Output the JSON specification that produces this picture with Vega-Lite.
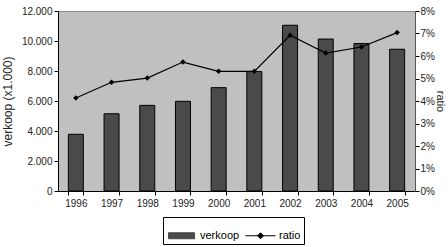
{
  "$schema": "https://vega.github.io/schema/vega-lite/v6.json",
  "width": 357,
  "height": 180,
  "autosize": {"type": "none"},
  "padding": {"left": 58, "top": 11, "right": 33, "bottom": 56},
  "background": "white",
  "config": {
    "font": "Liberation Sans",
    "view": {"fill": "#c0c0c0", "stroke": "#8a8a8a", "strokeWidth": 1},
    "axis": {
      "labelFont": "Liberation Sans",
      "labelFontSize": 10,
      "labelColor": "#222",
      "domainColor": "#000",
      "tickColor": "#000",
      "tickSize": 4,
      "grid": false,
      "titleFont": "Liberation Sans",
      "titleFontWeight": "normal",
      "titleFontSize": 12,
      "titleColor": "#222"
    },
    "legend": {
      "title": null,
      "orient": "none",
      "legendX": 105,
      "legendY": 206,
      "direction": "horizontal",
      "strokeColor": "#000",
      "padding": 3,
      "symbolSize": 900,
      "labelFont": "Liberation Sans",
      "labelFontSize": 11,
      "labelColor": "#000",
      "labelOffset": 3,
      "columnPadding": 3
    }
  },
  "data": {
    "values": [
      {"jaar": "1996", "verkoop": 3780, "ratio": 0.0413},
      {"jaar": "1997", "verkoop": 5150, "ratio": 0.0483},
      {"jaar": "1998", "verkoop": 5710, "ratio": 0.0502},
      {"jaar": "1999", "verkoop": 5980, "ratio": 0.0573},
      {"jaar": "2000", "verkoop": 6890, "ratio": 0.0532},
      {"jaar": "2001", "verkoop": 7960, "ratio": 0.0532},
      {"jaar": "2002", "verkoop": 11050, "ratio": 0.0692},
      {"jaar": "2003", "verkoop": 10130, "ratio": 0.0613},
      {"jaar": "2004", "verkoop": 9830, "ratio": 0.064},
      {"jaar": "2005", "verkoop": 9450, "ratio": 0.0704}
    ]
  },
  "layer": [
    {
      "mark": {"type": "bar", "stroke": "#000", "strokeWidth": 1},
      "encoding": {
        "x": {
          "field": "jaar",
          "type": "ordinal",
          "scale": {"paddingInner": 0.58, "paddingOuter": 0.29},
          "axis": {"title": null, "labelAngle": 0, "tickBand": "extent", "labelPadding": 3}
        },
        "y": {
          "field": "verkoop",
          "type": "quantitative",
          "scale": {"domain": [0, 12000], "nice": false},
          "axis": {
            "title": "verkoop (x1.000)",
            "orient": "left",
            "titlePadding": 7,
            "values": [0, 2000, 4000, 6000, 8000, 10000, 12000],
            "labelExpr": "replace(format(datum.value, ','), ',', '.')",
            "labelPadding": 2
          }
        },
        "color": {
          "datum": "verkoop",
          "type": "nominal",
          "scale": {"domain": ["verkoop", "ratio"], "range": ["#4a4a4a", "#000000"]},
          "legend": {
            "encode": {
              "symbols": {
                "enter": {
                  "shape": {"signal": "datum.value === 'verkoop' ? 'M-0.87,-0.2H0.87V0.2H-0.87Z' : 'M-1,0H1M0,-0.2L0.2,0L0,0.2L-0.2,0Z'"}
                },
                "update": {
                  "shape": {"signal": "datum.value === 'verkoop' ? 'M-0.87,-0.2H0.87V0.2H-0.87Z' : 'M-1,0H1M0,-0.2L0.2,0L0,0.2L-0.2,0Z'"},
                  "fill": {"signal": "datum.value === 'verkoop' ? '#4a4a4a' : '#000'"},
                  "stroke": {"value": "#000"},
                  "strokeWidth": {"value": 1},
                  "opacity": {"value": 1}
                }
              }
            }
          }
        }
      }
    },
    {
      "mark": {
        "type": "line",
        "strokeWidth": 1.2,
        "point": {"shape": "diamond", "filled": true, "size": 30, "color": "#000"}
      },
      "encoding": {
        "x": {"field": "jaar", "type": "ordinal"},
        "y": {
          "field": "ratio",
          "type": "quantitative",
          "scale": {"domain": [0, 0.08], "nice": false},
          "axis": {
            "orient": "right",
            "title": "ratio",
            "titleFontSize": 11,
            "titlePadding": 0,
            "format": ".0%",
            "values": [0, 0.01, 0.02, 0.03, 0.04, 0.05, 0.06, 0.07, 0.08],
            "labelPadding": 1,
            "domainColor": "#555"
          }
        },
        "color": {
          "datum": "ratio",
          "type": "nominal",
          "legend": {
            "encode": {
              "symbols": {
                "enter": {
                  "shape": {"signal": "datum.value === 'verkoop' ? 'M-0.87,-0.2H0.87V0.2H-0.87Z' : 'M-1,0H1M0,-0.2L0.2,0L0,0.2L-0.2,0Z'"}
                },
                "update": {
                  "shape": {"signal": "datum.value === 'verkoop' ? 'M-0.87,-0.2H0.87V0.2H-0.87Z' : 'M-1,0H1M0,-0.2L0.2,0L0,0.2L-0.2,0Z'"},
                  "fill": {"signal": "datum.value === 'verkoop' ? '#4a4a4a' : '#000'"},
                  "stroke": {"value": "#000"},
                  "strokeWidth": {"value": 1},
                  "opacity": {"value": 1}
                }
              }
            }
          }
        }
      }
    }
  ],
  "resolve": {"scale": {"y": "independent"}}
}
